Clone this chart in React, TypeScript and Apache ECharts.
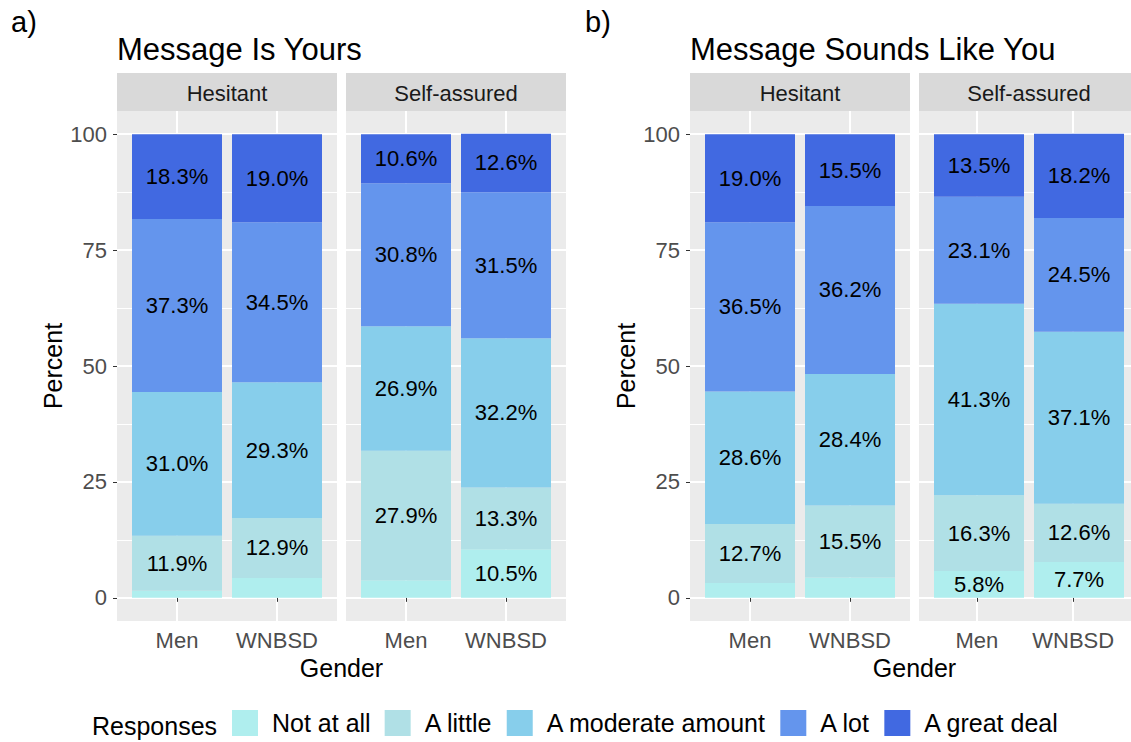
import React, { useEffect, useRef } from 'react';
import * as echarts from 'echarts';

const responses = ['Not at all', 'A little', 'A moderate amount', 'A lot', 'A great deal'];
const responseColors = ['#AFEEEE', '#B0E0E6', '#87CEEB', '#6495ED', '#4169E1'];
const genders = ['Men', 'WNBSD'];
const facetNames = ['Hesitant', 'Self-assured'];
const panelTitles = ['Message Is Yours', 'Message Sounds Like You'];
const panelTags = ['a)', 'b)'];
const yTicks = [0, 25, 50, 75, 100];
const yMinorTicks = [12.5, 37.5, 62.5, 87.5];
const xTicks = [1, 2];

// each row: one response, values for [Men, WNBSD]
const yoursHesitant = [
  [1.5, 4.3],
  [11.9, 12.9],
  [31.0, 29.3],
  [37.3, 34.5],
  [18.3, 19.0],
];
const yoursSelfAssured = [
  [3.8, 10.5],
  [27.9, 13.3],
  [26.9, 32.2],
  [30.8, 31.5],
  [10.6, 12.6],
];
const soundsHesitant = [
  [3.2, 4.4],
  [12.7, 15.5],
  [28.6, 28.4],
  [36.5, 36.2],
  [19.0, 15.5],
];
const soundsSelfAssured = [
  [5.8, 7.7],
  [16.3, 12.6],
  [41.3, 37.1],
  [23.1, 24.5],
  [13.5, 18.2],
];

const facetData = [yoursHesitant, yoursSelfAssured, soundsHesitant, soundsSelfAssured];

const FONT = '"Liberation Sans", Arial, Helvetica, sans-serif';
const facetLefts = [117, 346, 690, 919];
const facetWidth = 220;
const panelTop = 111;
const panelHeight = 510;
const stripTop = 73;
const stripHeight = 38;
const panelLefts = [117, 690];
// discrete x scale: categories at 1 and 2, panel spans 0.4 .. 2.6
const xMin = 0.4;
const xMax = 2.6;

export default function App() {
  const ref = useRef<HTMLDivElement>(null);

  useEffect(() => {
    if (!ref.current) return;
    const chart = echarts.init(ref.current, null, { renderer: 'svg' });

    const unit = facetWidth / (xMax - xMin);
    const bgGrids = facetLefts.map((left) => ({
      left,
      top: panelTop,
      width: facetWidth,
      height: panelHeight,
      show: true,
      backgroundColor: '#EBEBEB',
      borderWidth: 0,
    }));
    // bar grids: category bands aligned with positions 1 and 2 of the panel scale
    const barGrids = facetLefts.map((left) => ({
      left: left + (0.5 - xMin) * unit,
      top: panelTop,
      width: 2 * unit,
      height: panelHeight,
      show: false,
    }));

    const xAxes: any[] = [];
    facetLefts.forEach((_, i) => {
      xAxes.push({
        type: 'value',
        gridIndex: i,
        min: xMin,
        max: xMax,
        axisLine: { show: false },
        axisTick: {
          show: true,
          customValues: xTicks,
          length: 4,
          lineStyle: { color: '#333333', width: 1 },
        },
        axisLabel: {
          show: true,
          customValues: xTicks,
          formatter: (v: number) => genders[Math.round(v) - 1] ?? '',
          color: '#4D4D4D',
          fontSize: 22,
          fontFamily: FONT,
          margin: 8,
        },
        splitLine: { show: true, lineStyle: { color: '#FFFFFF', width: 2 } },
      });
    });
    facetLefts.forEach((_, i) => {
      xAxes.push({
        type: 'category',
        gridIndex: 4 + i,
        data: genders,
        show: false,
      });
    });

    const yAxes: any[] = [];
    facetLefts.forEach((_, i) => {
      const first = i % 2 === 0;
      yAxes.push({
        type: 'value',
        gridIndex: i,
        min: -5,
        max: 105,
        axisLine: { show: false },
        axisTick: {
          show: first,
          customValues: yTicks,
          length: 4,
          lineStyle: { color: '#333333', width: 1 },
        },
        axisLabel: {
          show: first,
          customValues: yTicks,
          color: '#4D4D4D',
          fontSize: 22,
          fontFamily: FONT,
          margin: 10,
        },
        splitLine: { show: true, lineStyle: { color: '#FFFFFF', width: 2 } },
      });
      yAxes.push({
        type: 'value',
        gridIndex: i,
        position: 'right',
        min: -5,
        max: 105,
        axisLine: { show: false },
        axisTick: { show: false, customValues: yMinorTicks },
        axisLabel: { show: false, customValues: yMinorTicks },
        splitLine: { show: true, lineStyle: { color: '#FFFFFF', width: 1 } },
      });
    });
    facetLefts.forEach((_, i) => {
      yAxes.push({
        type: 'value',
        gridIndex: 4 + i,
        min: -5,
        max: 105,
        show: false,
        splitLine: { show: false },
      });
    });

    const series: any[] = [];
    facetData.forEach((fd, f) => {
      responses.forEach((resp, r) => {
        series.push({
          type: 'bar',
          name: resp,
          xAxisIndex: 4 + f,
          yAxisIndex: 8 + f,
          stack: 'facet' + f,
          barWidth: '90%',
          data: genders.map((_, gi) => fd[r][gi]),
          itemStyle: { color: responseColors[r] },
          label: {
            show: true,
            position: 'inside',
            formatter: (p: any) => {
              const v = Number(p.value);
              return v >= 5 ? v.toFixed(1) + '%' : '';
            },
            color: '#000000',
            fontSize: 22,
            fontFamily: FONT,
          },
          emphasis: { disabled: true },
        });
      });
    });

    const graphics: any[] = [];
    facetLefts.forEach((left, i) => {
      graphics.push({
        type: 'rect',
        shape: { x: left, y: stripTop, width: facetWidth, height: stripHeight },
        style: { fill: '#D9D9D9' },
        silent: true,
      });
      graphics.push({
        type: 'text',
        x: left + facetWidth / 2,
        y: stripTop + stripHeight / 2 + 1,
        style: {
          text: facetNames[i % 2],
          fill: '#1A1A1A',
          fontSize: 22,
          fontFamily: FONT,
          align: 'center',
          verticalAlign: 'middle',
        },
        silent: true,
      });
    });
    panelLefts.forEach((left, p) => {
      graphics.push({
        type: 'text',
        x: left,
        y: 49.5,
        style: {
          text: panelTitles[p],
          fill: '#000000',
          fontSize: 31,
          fontFamily: FONT,
          align: 'left',
          verticalAlign: 'middle',
        },
        silent: true,
      });
      graphics.push({
        type: 'text',
        x: p === 0 ? 11 : 585,
        y: 22,
        style: {
          text: panelTags[p],
          fill: '#000000',
          fontSize: 29,
          fontFamily: FONT,
          align: 'left',
          verticalAlign: 'middle',
        },
        silent: true,
      });
      graphics.push({
        type: 'text',
        x: left - 64,
        y: panelTop + panelHeight / 2,
        rotation: Math.PI / 2,
        style: {
          text: 'Percent',
          fill: '#000000',
          fontSize: 25,
          fontFamily: FONT,
          align: 'center',
          verticalAlign: 'middle',
        },
        silent: true,
      });
      const right = facetLefts[p * 2 + 1] + facetWidth;
      graphics.push({
        type: 'text',
        x: (left + right) / 2,
        y: 668,
        style: {
          text: 'Gender',
          fill: '#000000',
          fontSize: 25,
          fontFamily: FONT,
          align: 'center',
          verticalAlign: 'middle',
        },
        silent: true,
      });
    });
    graphics.push({
      type: 'text',
      x: 92,
      y: 726,
      style: {
        text: 'Responses',
        fill: '#000000',
        fontSize: 25,
        fontFamily: FONT,
        align: 'left',
        verticalAlign: 'middle',
      },
      silent: true,
    });

    chart.setOption({
      animation: false,
      backgroundColor: '#FFFFFF',
      textStyle: { fontFamily: FONT },
      grid: [...bgGrids, ...barGrids],
      xAxis: xAxes,
      yAxis: yAxes,
      series,
      legend: {
        data: responses,
        left: 232,
        top: 710,
        orient: 'horizontal',
        itemWidth: 26,
        itemHeight: 26,
        itemGap: 14,
        icon: 'rect',
        selectedMode: false,
        padding: 0,
        textStyle: {
          fontSize: 25,
          color: '#000000',
          fontFamily: FONT,
          padding: [7, 0, 0, 9],
        },
      },
      graphic: graphics,
    });

    return () => {
      chart.dispose();
    };
  }, []);

  return (
    <div
      ref={ref}
      style={{ position: 'fixed', left: 0, top: 0, width: 1131, height: 742 }}
    />
  );
}
